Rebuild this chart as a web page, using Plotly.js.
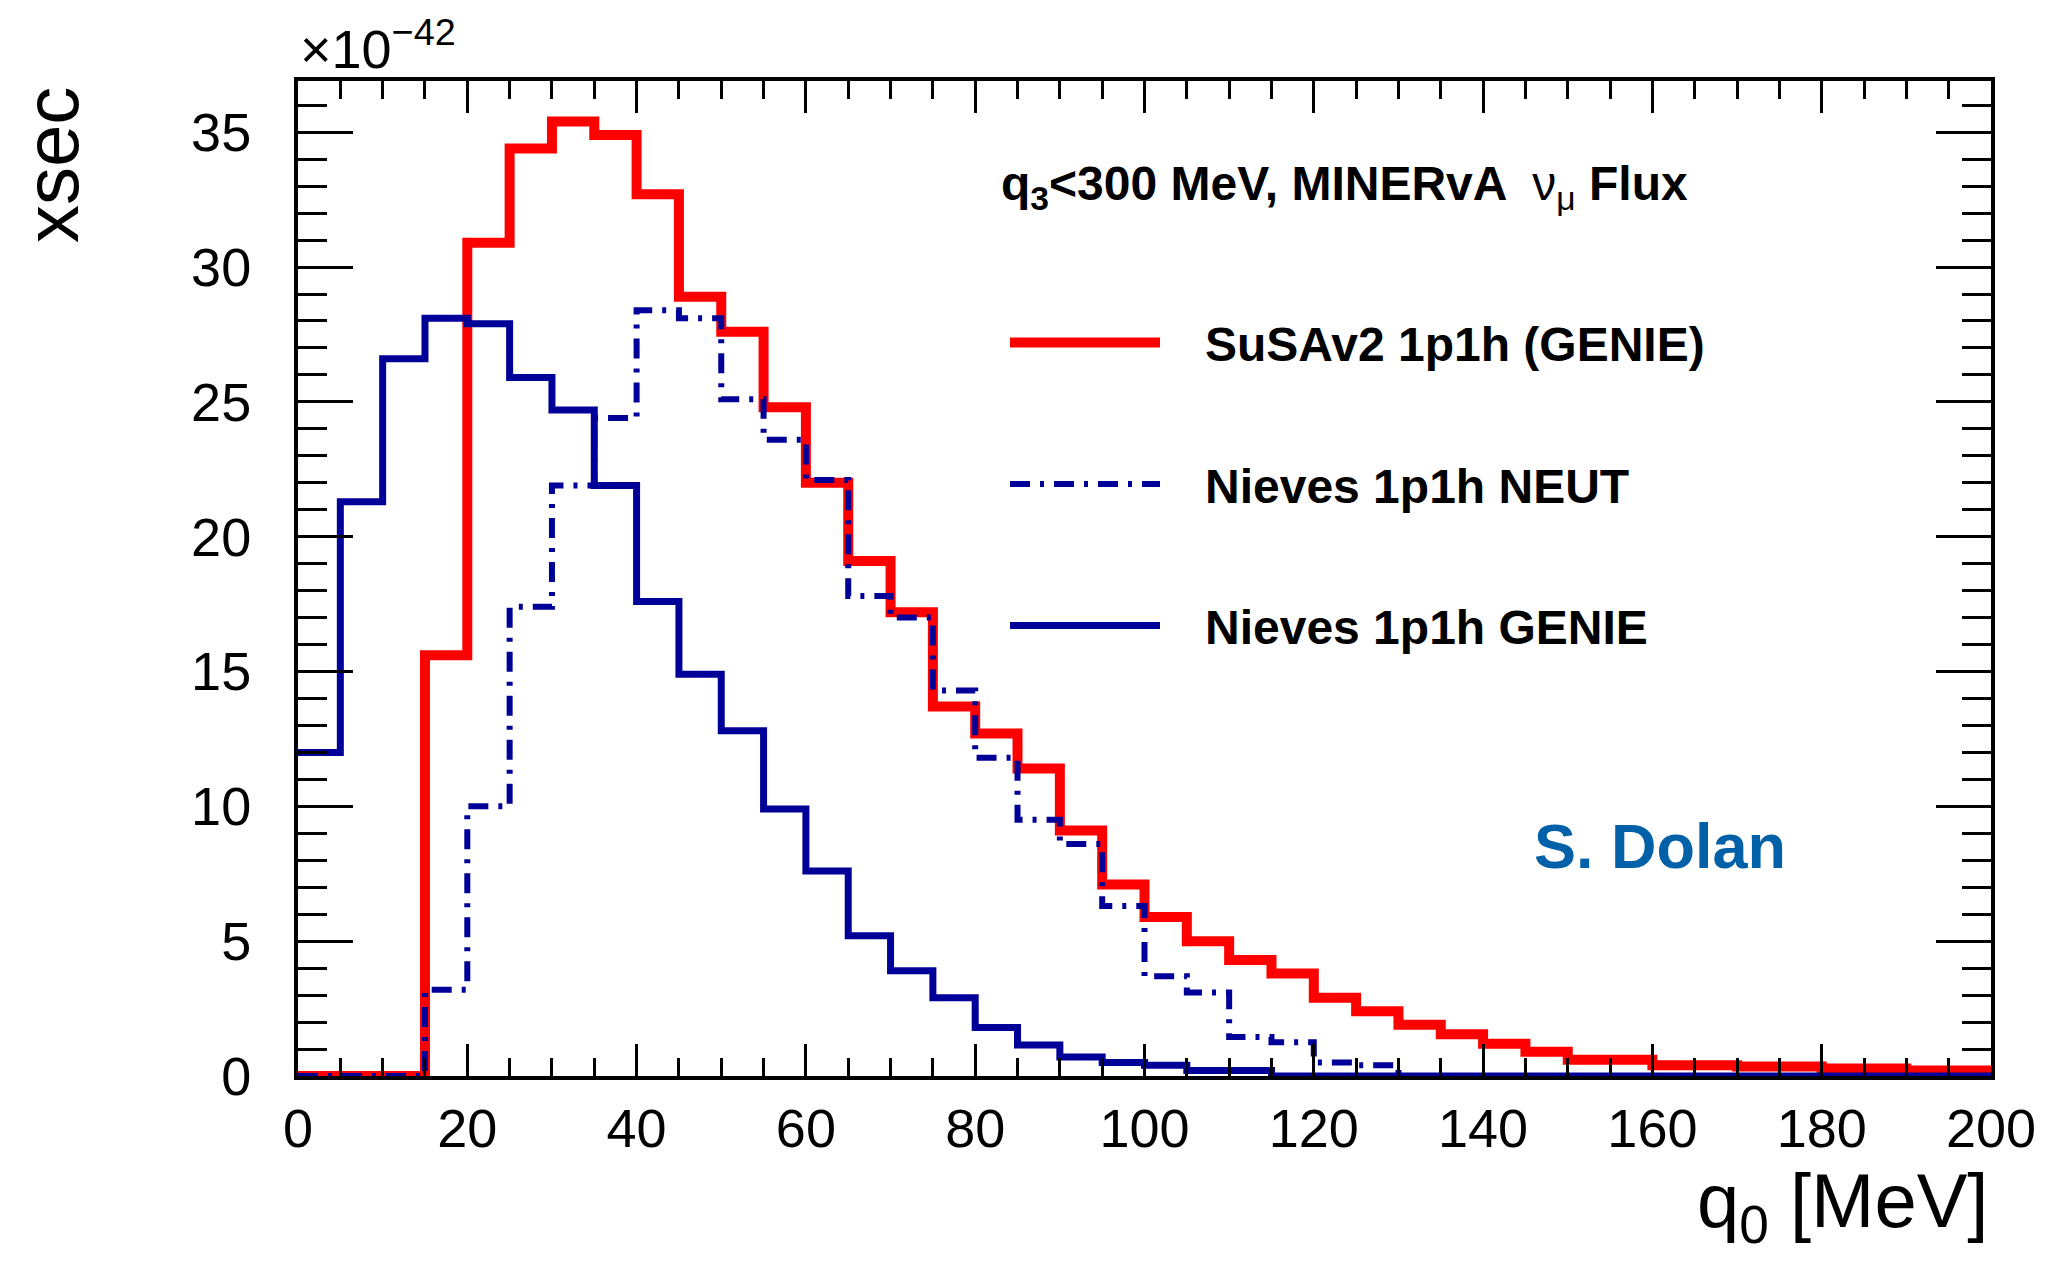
<!DOCTYPE html>
<html>
<head>
<meta charset="utf-8">
<script src="https://cdn.plot.ly/plotly-3.0.1.min.js"></script>
<style>html,body{margin:0;padding:0;background:#fff;}#chart{width:2047px;height:1267px;}</style>
</head>
<body>
<div id="chart"></div>
<script>
// q0 bin edges [MeV]
const binEdges = [0,5,10,15,20,25,30,35,40,45,50,55,60,65,70,75,80,85,90,95,100,
  105,110,115,120,125,130,135,140,145,150,155,160,165,170,175,180,185,190,195,200];

// cross sections (x 1e-42) per bin
const susav2Genie = [0,0,0,15.6,30.9,34.4,35.4,34.9,32.7,28.9,27.6,24.8,22.0,19.1,17.2,13.7,12.7,11.4,9.1,7.1,
  5.9,5.0,4.3,3.8,2.9,2.4,1.9,1.55,1.2,0.9,0.6,0.6,0.4,0.4,0.35,0.35,0.28,0.28,0.2,0.2];
const nievesNeut = [0,0,0,3.2,10.0,17.4,21.9,24.4,28.4,28.1,25.1,23.6,22.1,17.8,17.0,14.3,11.8,9.5,8.6,6.3,
  3.7,3.1,1.45,1.25,0.5,0.4,0,0,0,0,0,0,0,0,0,0,0,0,0,0];
const nievesGenie = [12.0,21.3,26.6,28.1,27.9,25.9,24.7,21.9,17.6,14.9,12.8,9.9,7.6,5.2,3.9,2.9,1.8,1.15,0.7,0.5,
  0.4,0.2,0.2,0,0,0,0,0,0,0,0,0,0,0,0,0,0,0,0,0];

const seriesNames = ["SuSAv2 1p1h (GENIE)", "Nieves 1p1h NEUT", "Nieves 1p1h GENIE"];

function stepY(vals){ return vals.concat([vals[vals.length-1]]); }
const PAD = '\u00a0\u00a0\u00a0';

const FONT = "Liberation Sans, Arial, Helvetica, sans-serif";

const traces = [
  {x: binEdges, y: stepY(susav2Genie), name: PAD + seriesNames[0], type: 'scatter', mode: 'lines',
   line: {shape: 'hv', color: '#ff0000', width: 10}, legendgroup: 'a'},
  {x: binEdges, y: stepY(nievesNeut), name: PAD + seriesNames[1], type: 'scatter', mode: 'lines',
   line: {shape: 'hv', color: '#000099', width: 6, dash: '20px,10px,4px,10px'}, legendgroup: 'b'},
  {x: binEdges, y: stepY(nievesGenie), name: PAD + seriesNames[2], type: 'scatter', mode: 'lines',
   line: {shape: 'hv', color: '#000099', width: 7}, legendgroup: 'c'}
];

const layout = {
  width: 2047, height: 1267,
  margin: {l: 298, r: 56, t: 81, b: 191},
  paper_bgcolor: '#fff', plot_bgcolor: '#fff',
  showlegend: true,
  legend: {
    x: 0.4176, y: 0.775, xanchor: 'left', yanchor: 'top',
    font: {family: FONT, size: 48, color: '#000', weight: 'bold'},
    bgcolor: 'rgba(0,0,0,0)', borderwidth: 0,
    tracegroupgap: 76, itemwidth: 150, traceorder: 'grouped'
  },
  xaxis: {
    range: [0, 200], tickmode: 'linear', tick0: 0, dtick: 20,
    ticks: 'inside', ticklen: 32, tickwidth: 3, tickcolor: '#000',
    minor: {dtick: 5, ticks: 'inside', ticklen: 18, tickwidth: 3, tickcolor: '#000'},
    showline: true, linewidth: 4, linecolor: '#000', mirror: 'allticks',
    showgrid: false, zeroline: false,
    tickfont: {family: FONT, size: 54, color: '#000'},
    ticklabelstandoff: 2
  },
  yaxis: {
    range: [0, 36.9], tickmode: 'linear', tick0: 0, dtick: 5,
    ticks: 'inside', ticklen: 55, tickwidth: 3, tickcolor: '#000',
    minor: {dtick: 1, ticks: 'inside', ticklen: 29, tickwidth: 3, tickcolor: '#000'},
    showline: true, linewidth: 4, linecolor: '#000', mirror: 'allticks',
    showgrid: false, zeroline: false,
    tickfont: {family: FONT, size: 54, color: '#000'},
    ticklabelstandoff: 32
  },
  annotations: [
    {text: '×10<sup>−42</sup>', xref: 'paper', yref: 'paper', x: 0, y: 1, xanchor: 'left', yanchor: 'bottom',
     showarrow: false, font: {family: FONT, size: 54, color: '#000'}, yshift: 0},
    {text: 'xsec', xref: 'paper', yref: 'paper', x: -0.1453, y: 0.996, xanchor: 'center', yanchor: 'top',
     textangle: -90, showarrow: false, font: {family: FONT, size: 76, color: '#000'}},
    {text: 'q<sub>0</sub> [MeV]', xref: 'paper', yref: 'paper', x: 1, y: -0.08, xanchor: 'right', yanchor: 'top',
     showarrow: false, font: {family: FONT, size: 76, color: '#000'}},
    {text: '<b>q<sub>3</sub><300 MeV, MINERvA  </b><span style="font-weight:normal">ν<sub>μ</sub></span><b> Flux</b>',
     xref: 'paper', yref: 'paper', x: 0.414, y: 0.8935, xanchor: 'left', yanchor: 'middle',
     showarrow: false, font: {family: FONT, size: 48, color: '#000'}},
    {text: '<b>S. Dolan</b>', xref: 'paper', yref: 'paper', x: 0.8045, y: 0.231, xanchor: 'center', yanchor: 'middle',
     showarrow: false, font: {family: FONT, size: 63, color: '#0060a8'}}
  ]
};

Plotly.newPlot('chart', traces, layout, {staticPlot: true, displayModeBar: false});
</script>
</body>
</html>
